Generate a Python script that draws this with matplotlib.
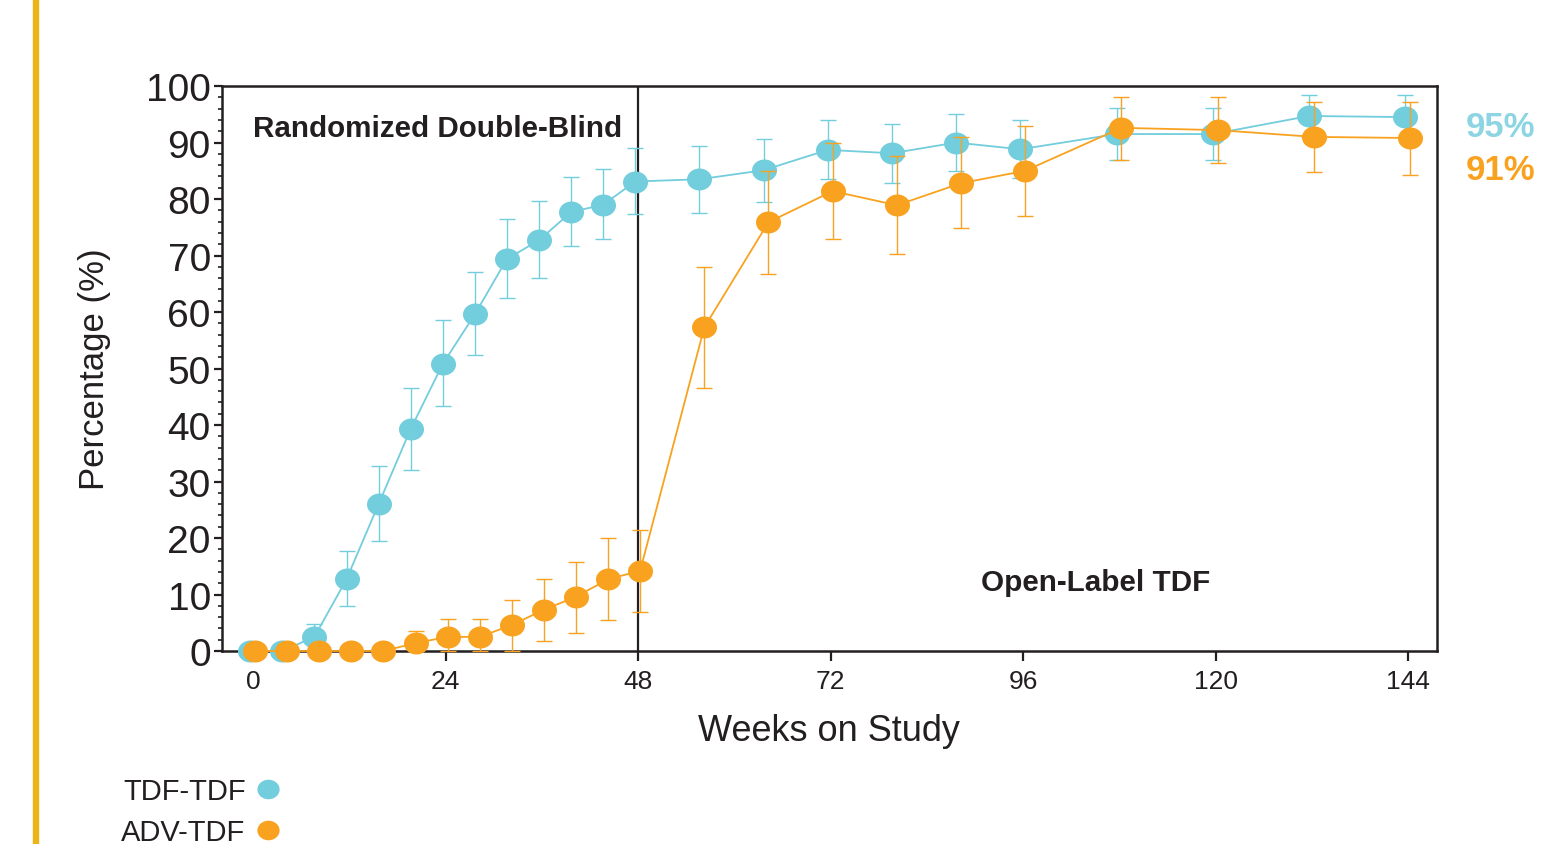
import numpy as np
import matplotlib
matplotlib.use("Agg")
import matplotlib.pyplot as plt
import matplotlib.transforms as mtransforms
from matplotlib.path import Path
from matplotlib.lines import Line2D
from matplotlib.patches import Rectangle

plt.rcParams['font.family'] = ['Liberation Sans', 'DejaVu Sans']

weeks = [0, 4, 8, 12, 16, 20, 24, 28, 32, 36, 40, 44, 48,
         56, 64, 72, 80, 88, 96, 108, 120, 132, 144]

# TDF-TDF
tdf = [0, 0, 2.5, 12.7, 26.0, 39.3, 50.8, 59.6, 69.4, 72.7, 77.7, 79.0, 83.1,
       83.5, 85.1, 88.7, 88.1, 90.0, 88.8, 91.5, 91.5, 94.7, 94.5]
tdf_hi = [0, 0, 4.8, 17.7, 32.7, 46.5, 58.6, 67.1, 76.5, 79.6, 83.9, 85.4, 89.0,
          89.4, 90.7, 93.9, 93.3, 95.0, 93.9, 96.1, 96.1, 98.4, 98.4]
tdf_lo = [0, 0, 0, 8.0, 19.5, 32.0, 43.4, 52.4, 62.5, 66.0, 71.7, 72.9, 77.3,
          77.5, 79.4, 83.5, 82.9, 85.0, 83.8, 86.9, 86.9, 91.0, 91.0]

# ADV-TDF
adv = [0, 0, 0, 0, 0, 1.4, 2.5, 2.5, 4.6, 7.3, 9.6, 12.7, 14.2,
       57.3, 75.9, 81.4, 78.9, 82.8, 85.0, 92.6, 92.2, 91.0, 90.8]
adv_hi = [0, 0, 0, 0, 0, 3.5, 5.7, 5.7, 9.1, 12.7, 15.8, 20.0, 21.5,
          68.0, 85.0, 89.9, 87.7, 91.0, 92.9, 98.1, 98.1, 97.2, 97.2]
adv_lo = [0, 0, 0, 0, 0, 0, 0, 0, 0, 1.8, 3.2, 5.4, 6.9,
          46.5, 66.7, 72.9, 70.2, 74.8, 77.0, 86.9, 86.4, 84.8, 84.2]

cyan = '#72CDDC'
orange = '#F9A21F'
dark = '#231F20'

# slightly flattened circle marker
oval = Path.unit_circle().transformed(mtransforms.Affine2D().scale(1.0, 0.88))

fig = plt.figure(figsize=(15.48, 8.45), dpi=100)
ax = fig.add_axes([0.1434, 0.2284, 0.9283 - 0.1434, 0.897 - 0.2284])

fig.patches.append(Rectangle((0.0213, 0), 0.003, 1, transform=fig.transFigure,
                             color='#EDB417', zorder=0))


def draw(y, hi, lo, color, shift, z):
    y = np.array(y)
    yerr = [y - np.array(lo), np.array(hi) - y]
    tr = ax.transData + mtransforms.ScaledTranslation(shift / 72, 0, fig.dpi_scale_trans)
    ax.errorbar(weeks, y, yerr=yerr, fmt='none', ecolor=color, elinewidth=1.0,
                capsize=5.5, capthick=1.0, zorder=z, clip_on=False, transform=tr)
    ax.plot(weeks, y, color=color, lw=1.3, marker=oval, markersize=18,
            markeredgewidth=0, zorder=z, clip_on=False, transform=tr)


draw(tdf, tdf_hi, tdf_lo, cyan, -2.0, 3)
draw(adv, adv_hi, adv_lo, orange, 1.5, 4)

ax.axvline(48, color=dark, lw=1.6, zorder=2)

ax.set_xlim(-3.87, 147.6)
ax.set_ylim(0, 100)
ax.set_xticks(np.arange(0, 145, 24))
ax.set_yticks(np.arange(0, 101, 10))
ax.set_yticks(np.arange(0, 101, 2), minor=True)
ax.tick_params(axis='y', which='major', labelsize=28, length=6, width=1.6,
               pad=2, colors=dark)
ax.tick_params(axis='y', which='minor', length=3, width=1.2, colors=dark)
ax.tick_params(axis='x', which='major', labelsize=19, length=7, width=1.6,
               pad=6, colors=dark)
for s in ax.spines.values():
    s.set_linewidth(1.8)
    s.set_color(dark)

ax.set_xlabel('Weeks on Study', fontsize=26, color=dark, labelpad=14)
ax.set_ylabel('Percentage (%)', fontsize=25, color=dark, labelpad=25)

ax.text(0, 92.6, 'Randomized Double-Blind', fontsize=21.3, fontweight='bold',
        color=dark, ha='left', va='center')
ax.text(90.8, 12.2, 'Open-Label TDF', fontsize=21.3, fontweight='bold',
        color=dark, ha='left', va='center')
ax.text(151.2, 92.9, '95%', fontsize=25, fontweight='bold', color='#8DD5E2',
        ha='left', va='center', clip_on=False)
ax.text(151.2, 85.2, '91%', fontsize=25, fontweight='bold', color=orange,
        ha='left', va='center', clip_on=False)

handles = [Line2D([], [], ls='none', marker=oval, markersize=16, color=cyan, mew=0),
           Line2D([], [], ls='none', marker=oval, markersize=16, color=orange, mew=0)]
fig.legend(handles, ['TDF-TDF', 'ADV-TDF'], loc='upper left',
           bbox_to_anchor=(0.069, 0.096), frameon=False, markerfirst=False,
           fontsize=21, handlelength=1.0, handletextpad=0.25, labelspacing=0.42,
           borderpad=0, labelcolor=dark)

fig.savefig('out.png', dpi=100)
